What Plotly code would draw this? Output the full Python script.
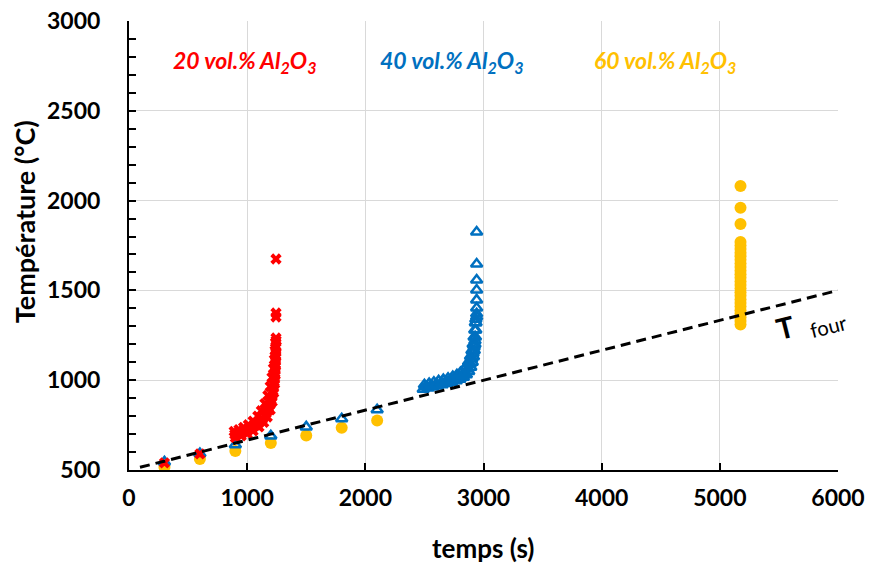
import plotly.graph_objects as go

# ---- data ----
red_low_t = [300, 600]
red_low_T = [540, 590]
red_t = [900, 950, 1000, 1050, 1100, 1140, 1170, 1195, 1212, 1225, 1233, 1238, 1241, 1243, 1244, 1245,
         890, 930, 970, 1010, 1050, 1090, 1120, 1150, 1175, 1195, 1210, 1222, 1230, 1236, 1240,
         895, 940, 985, 1030, 1075, 1115, 1150, 1180, 1202, 1218, 1229, 1235, 1239, 1242, 1244,
         915, 960, 1005, 1050, 1095, 1130, 1160, 1188, 1207, 1221, 1231, 1237, 1240, 1243,
         1244, 1244, 1244, 1244]
red_T = [680, 690, 702, 718, 740, 765, 795, 835, 880, 930, 980, 1030, 1080, 1130, 1180, 1220,
         715, 725, 737, 752, 772, 800, 830, 870, 915, 965, 1015, 1065, 1115, 1165, 1210,
         698, 707, 718, 732, 750, 774, 805, 845, 892, 940, 990, 1040, 1090, 1140, 1190,
         703, 713, 725, 740, 760, 784, 815, 860, 905, 955, 1005, 1055, 1105, 1155,
         1235, 1352, 1374, 1675]

blue_low_t = [300, 600, 900, 1200, 1500, 1800, 2100]
blue_low_T = [545, 592, 640, 690, 740, 785, 835]
blue_t = [2490, 2530, 2570, 2610, 2650, 2690, 2730, 2770, 2800, 2830, 2855, 2875, 2892, 2905,
          2915, 2922, 2928, 2932, 2935, 2937,
          2500, 2540, 2580, 2620, 2660, 2700, 2740, 2775, 2805, 2832, 2855, 2874, 2890, 2902,
          2912, 2920, 2926, 2931, 2935,
          2510, 2555, 2600, 2645, 2690, 2735, 2780, 2815, 2845, 2868, 2886, 2900, 2912, 2921, 2928,
          2942, 2942, 2942, 2942, 2942, 2942, 2942, 2942]
blue_T = [950, 956, 962, 968, 975, 982, 989, 997, 1005, 1016, 1030, 1048, 1072, 1100,
          1130, 1165, 1200, 1240, 1280, 1320,
          975, 982, 989, 996, 1003, 1011, 1020, 1030, 1042, 1058, 1078, 1103, 1133, 1165,
          1200, 1240, 1280, 1320, 1340,
          963, 970, 977, 985, 993, 1001, 1012, 1025, 1042, 1062, 1088, 1118, 1150, 1185, 1220,
          1353, 1370, 1402, 1447, 1502, 1558, 1647, 1825]

yellow_low_t = [300, 600, 900, 1200, 1500, 1800, 2100]
yellow_low_T = [517, 561, 606, 650, 692, 735, 775]
yellow_t = [5175] * 27
yellow_T = [1310, 1330, 1350, 1370, 1390, 1410, 1430, 1450, 1470, 1490, 1510, 1530, 1550,
            1570, 1590, 1610, 1630, 1650, 1670, 1690, 1710, 1730, 1750, 1770,
            1870, 1960, 2081]

four_t = [93, 6000]
four_T = [515, 1500]

labels = ["20 vol.% Al<sub>2</sub>O<sub>3</sub>",
          "40 vol.% Al<sub>2</sub>O<sub>3</sub>",
          "60 vol.% Al<sub>2</sub>O<sub>3</sub>"]
label_t = [982, 2733, 4536]
label_T = [2772, 2772, 2772]

x_ticks = [0, 1000, 2000, 3000, 4000, 5000, 6000]
y_ticks = [500, 1000, 1500, 2000, 2500, 3000]

RED, BLUE, YEL = "#FF0000", "#0070C0", "#FFC000"
FONT = "Lato"

fig = go.Figure()
fig.add_trace(go.Scatter(x=yellow_low_t + yellow_t, y=yellow_low_T + yellow_T, mode="markers",
                         marker=dict(symbol="circle", size=12, color=YEL)))
fig.add_trace(go.Scatter(x=blue_low_t + blue_t, y=blue_low_T + blue_T, mode="markers",
                         marker=dict(symbol="triangle-up-open", size=10, color=BLUE,
                                     line=dict(width=2.5, color=BLUE))))
fig.add_trace(go.Scatter(x=red_low_t + red_t, y=red_low_T + red_T, mode="markers",
                         marker=dict(symbol="x", size=10, color=RED, line=dict(width=0))))
fig.add_trace(go.Scatter(x=four_t, y=four_T, mode="lines",
                         line=dict(color="black", width=3, dash="10px,6px")))

for txt, t, T, c in zip(labels, label_t, label_T, [RED, BLUE, YEL]):
    fig.add_annotation(x=t, y=T, text="<b><i>" + txt + "</i></b>", showarrow=False,
                       xanchor="center", yanchor="middle",
                       font=dict(family=FONT, size=23, color=c))

fig.add_annotation(x=5775, y=1322, text="<b>T</b>  <sub>four</sub>", showarrow=False,
                   textangle=-14, font=dict(family=FONT, size=29, color="black"))

# axis titles (paper coordinates)
fig.add_annotation(xref="paper", yref="paper", x=0.499, y=-0.174, text="<b>temps (s)</b>",
                   showarrow=False, xanchor="center", yanchor="middle",
                   font=dict(family=FONT, size=26, color="black"))
fig.add_annotation(xref="paper", yref="paper", x=-0.148, y=0.552, text="<b>Température (°C)</b>",
                   showarrow=False, xanchor="center", yanchor="middle", textangle=-90,
                   font=dict(family=FONT, size=27, color="black"))

fig.update_layout(
    width=871, height=565, showlegend=False,
    margin=dict(l=129, r=33, t=21, b=95, autoexpand=False),
    plot_bgcolor="white", paper_bgcolor="white",
    font=dict(family=FONT, color="black"),
)
fig.update_xaxes(range=[0, 6000], tickvals=x_ticks, automargin=False,
                 showgrid=True, gridcolor="#d9d9d9", gridwidth=1,
                 showline=True, linecolor="black", linewidth=2,
                 ticks="inside", ticklen=7, tickcolor="black", tickwidth=2,
                 tickfont=dict(family=FONT, size=23, weight="bold"), ticklabelstandoff=6,
                 ticklabeloverflow="allow", zeroline=False)
fig.update_yaxes(range=[500, 3000], tickvals=y_ticks, automargin=False,
                 showgrid=True, gridcolor="#d9d9d9", gridwidth=1,
                 showline=True, linecolor="black", linewidth=2,
                 ticks="inside", ticklen=7, tickcolor="black", tickwidth=2,
                 minor=dict(dtick=100, ticks="inside", ticklen=7, tickcolor="black", tickwidth=2,
                            showgrid=False),
                 tickfont=dict(family=FONT, size=23, weight="bold"), ticklabelstandoff=22,
                 ticklabeloverflow="allow", zeroline=False)

# remove the browser's default 8px page margin so the figure sits at the window origin
fig.write_html("out.html", config={"displayModeBar": False},
               post_script="document.body.style.margin='0';")
